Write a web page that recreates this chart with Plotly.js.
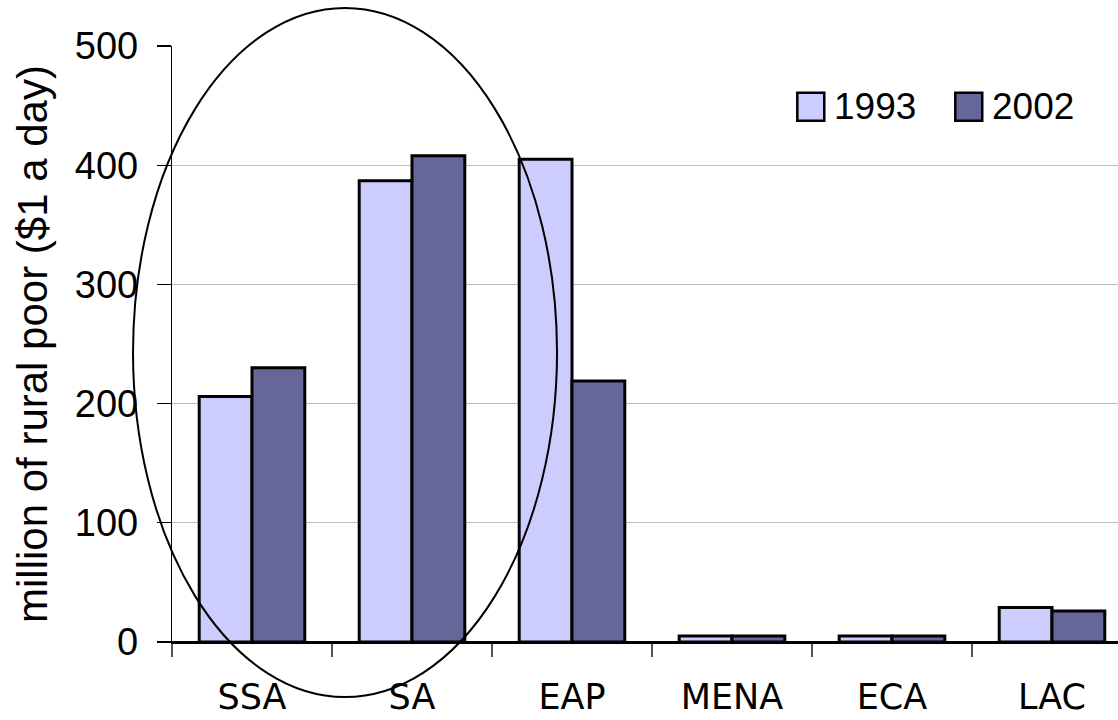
<!DOCTYPE html>
<html>
<head>
<meta charset="utf-8">
<script src="https://cdn.plot.ly/plotly-3.0.1.min.js"></script>
<style>
  html, body { margin: 0; padding: 0; background: #fff; }
  #chart { width: 1118px; height: 720px; }
</style>
</head>
<body>
<div id="chart"></div>
<script>
const regions = ["SSA", "SA", "EAP", "MENA", "ECA", "LAC"];
const seriesNames = ["1993", "2002"];
const values1993 = [206, 387, 405, 5, 5, 29];
const values2002 = [230, 408, 219, 5, 5, 26];
const colors = ["#CCCCFF", "#666699"];
const yTicks = [0, 100, 200, 300, 400, 500];
const yTitle = "million of rural poor ($1 a day)";

const traces = [values1993, values2002].map((vals, i) => ({
  type: "bar",
  name: seriesNames[i],
  x: regions,
  y: vals,
  marker: { color: colors[i], line: { color: "#000", width: 3 } },
  showlegend: false,
  hoverinfo: "x+y+name"
}));

const font = "Liberation Sans, Arial, sans-serif";

// custom legend (large squares like the original)
const legendShapes = [];
const legendAnn = [];
const legX = [0.661, 0.828];   // paper positions of legend boxes
const legY = 0.898;
seriesNames.forEach((nm, i) => {
  legendShapes.push({
    type: "rect", xref: "paper", yref: "paper",
    x0: legX[i], x1: legX[i] + 0.0285, y0: legY - 0.0235, y1: legY + 0.0235,
    fillcolor: colors[i], line: { color: "#000", width: 2.5 }, layer: "above"
  });
  legendAnn.push({
    xref: "paper", yref: "paper", x: legX[i] + 0.0365, y: legY,
    xanchor: "left", yanchor: "middle", showarrow: false,
    text: nm, font: { family: font, size: 37, color: "#000" }
  });
});

const layout = {
  width: 1118, height: 720,
  margin: { l: 172, r: 0, t: 46, b: 78, pad: 0 },
  paper_bgcolor: "#fff", plot_bgcolor: "#fff",
  barmode: "group", bargap: 0.34, bargroupgap: 0,
  showlegend: false,
  xaxis: {
    type: "category",
    range: [-0.5, 5.4125],
    tickson: "boundaries",
    ticks: "outside", ticklen: 13, tickwidth: 1.5, tickcolor: "#555",
    showline: true, linecolor: "#000", linewidth: 1.5,
    showgrid: false, zeroline: false,
    tickfont: { family: "DejaVu Sans, sans-serif", size: 35, color: "#000" },
    ticklabelstandoff: 23
  },
  yaxis: {
    range: [0, 500],
    tickvals: yTicks,
    ticks: "outside", ticklen: 14, tickwidth: 1.2, tickcolor: "#000",
    showline: true, linecolor: "#000", linewidth: 1.2,
    showgrid: true, gridcolor: "#bdbdbd", gridwidth: 1.2,
    zeroline: true, zerolinecolor: "#000", zerolinewidth: 1.5,
    tickfont: { family: font, size: 38, color: "#000" },
    ticklabelstandoff: 11,
    title: { text: yTitle, font: { family: font, size: 42, color: "#000" }, standoff: 14 },
    automargin: false
  },
  shapes: [
    {
      type: "circle", xref: "paper", yref: "paper",
      x0: -0.0412, x1: 0.407, y0: -0.0923, y1: 1.0638,
      line: { color: "#000", width: 2 }, fillcolor: "rgba(0,0,0,0)", layer: "above"
    }
  ].concat(legendShapes),
  annotations: legendAnn
};

Plotly.newPlot("chart", traces, layout, { displayModeBar: false, staticPlot: true });
</script>
</body>
</html>
